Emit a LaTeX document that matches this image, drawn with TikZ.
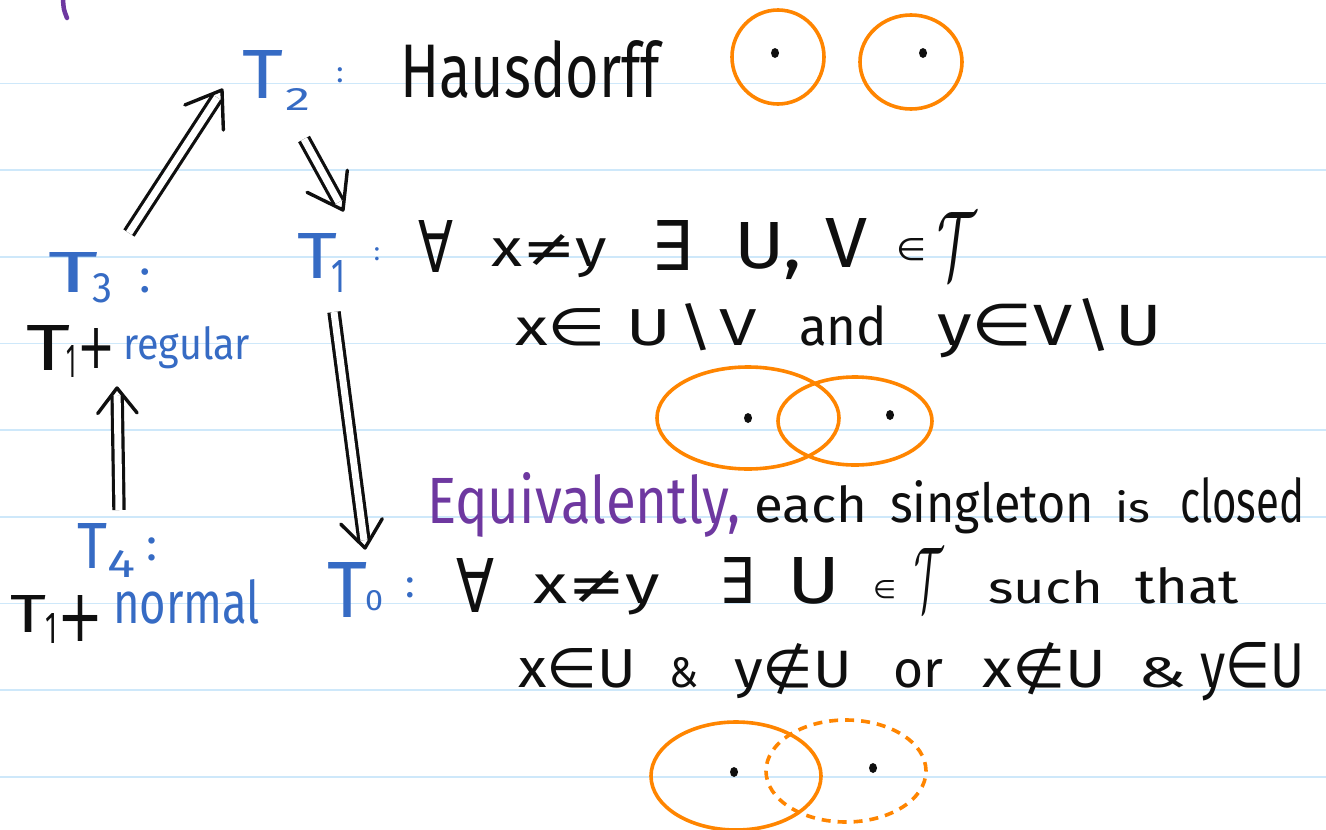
\documentclass[tikz,border=0pt]{standalone}
\usepackage{fix-cm}
\usepackage{fontspec}
\usepackage{graphicx}
\setmainfont{Fira Sans}
\newfontfamily\symf{DejaVu Sans}
\usetikzlibrary{calc}
\definecolor{tblue}{RGB}{54,107,196}
\definecolor{tpurple}{RGB}{110,56,160}
\definecolor{torange}{RGB}{255,133,0}
\definecolor{tline}{RGB}{206,232,250}
\definecolor{tink}{RGB}{15,15,15}
\newcommand\fs[1]{\fontsize{#1}{#1}\selectfont}
\newcommand\fitbox[3]{\resizebox{#1pt}{#2pt}{#3}}
\newcommand\sForall{{\symf ∀}}
\newcommand\sExists{{\symf ∃}}
\newcommand\sIn{{\symf ∈}}
\newcommand\sNotin{{\symf ∉}}
\newcommand\sNeq{{\symf ≠}}
\newcommand\sPlus{{\symf +}}
\newcommand\sMinus{\textbackslash}
% T-width, T-height, digit-width, digit-height, drop, digit, kern
\newcommand\Tlab[7]{\fitbox{#1}{#2}{T}\kern#7pt\raisebox{-#5pt}{\fitbox{#3}{#4}{#6}}}
\begin{document}
\begin{tikzpicture}[x=1pt,y=-1pt,
  txt/.style={inner sep=0pt, anchor=base west, font=\fs{50}, text=tink},
  btxt/.style={txt, text=tblue},
  ptxt/.style={txt, text=tpurple},
  colon/.style={inner sep=0pt, anchor=base, text=tblue},
  ring/.style={draw=torange, line width=3.6pt},
  dashring/.style={ring, dash pattern=on 9pt off 7pt},
  dotfill/.style={fill=tink},
  dbl/.style={draw=tink, double=white, double distance=7pt, line width=3.2pt},
  headst/.style={draw=tink, line width=3.4pt, line cap=round, line join=round},
  ruled/.style={draw=tline, line width=1.6pt}]

\useasboundingbox (0,0) rectangle (1326,830);
\fill[white] (0,0) rectangle (1326,830);

% notebook lines
\foreach \k in {0,...,8}{
  \draw[ruled] (0,{83.3+86.7*\k}) -- (1326,{83.3+86.7*\k});
}

% purple stroke at top
\draw[draw=tpurple, line width=4.5pt, line cap=round] (63,-2) .. controls (63.5,9) .. (67,18);

% ---------- T2 ----------
\node[btxt] (T2) at (242,98) {\Tlab{41}{48}{25}{22}{12}{2}{2}};
\node[colon, font=\fs{30}] (T2c) at (340,82) {:};
\node[txt] (haus) at (400,97) {\fitbox{260}{57}{Hausdorff}};
\draw[ring] (778,57) ellipse [x radius=46pt, y radius=47pt];
\draw[ring] (911,62) ellipse [x radius=51pt, y radius=47pt];
\fill[dotfill] (775,53) ellipse [x radius=4pt, y radius=5pt];
\fill[dotfill] (923,53) ellipse [x radius=4pt, y radius=5pt];

% ---------- T1 ----------
\node[btxt] (T1) at (297,278) {\Tlab{40}{45}{14}{32}{14}{1}{-6}};
\node[colon, font=\fs{26}] (T1c) at (377,260) {:};
\node[txt] (l1a) at (418,272) {\fitbox{35}{52}{\sForall}};
\node[txt] (l1b) at (491,266) {\fitbox{116}{32}{x\sNeq y}};
\node[txt] (l1c) at (651,270) {\fitbox{41}{50}{\sExists}};
\node[txt] (l1d) at (734,268) {\fitbox{68}{46}{U,}};
\node[txt] (l1e) at (825,267) {\fitbox{42}{49}{V}};
\node[txt] (l1f) at (896,260) {\fitbox{30}{22}{\sIn}};
\node[txt] (l1g) at (937,278) {\fitbox{39}{66}{$\mathcal{T}$}};

\node[txt] (l2a) at (515,345) {\fitbox{242}{42}{x\sIn\hspace{0.3em}U\hspace{0.1em}\sMinus\hspace{0.1em}V}};
\node[txt] (l2b) at (799,345) {\fitbox{88}{40}{and}};
\node[txt] (l2c) at (937,345) {\fitbox{225}{47}{y\sIn V\hspace{0.05em}\sMinus\hspace{0.05em}U}};

\draw[ring] (748,418) ellipse [x radius=91pt, y radius=51pt];
\draw[ring] (855,421) ellipse [x radius=77pt, y radius=44pt];
\fill[dotfill] (748,418) ellipse [x radius=4pt, y radius=5pt];
\fill[dotfill] (890,415) ellipse [x radius=4pt, y radius=5pt];

% ---------- Equivalently ----------
\node[ptxt] (eq) at (427,523) {\fitbox{313}{51}{Equivalently,}};
\node[txt] (w1) at (754,522) {\fitbox{113}{37}{each}};
\node[txt] (w2) at (890,522) {\fitbox{204}{42}{singleton}};
\node[txt] (w3) at (1115,522) {\fitbox{35}{32}{is}};
\node[txt] (w4) at (1180,522) {\fitbox{124}{45}{closed}};

% ---------- T0 ----------
\node[btxt] (T0) at (327,617) {\Tlab{40}{55}{18}{20}{-7}{0}{-2}};
\node[colon, font=\fs{40}] (T0c) at (410,597) {:};
\node[txt] (l4a) at (456,612) {\fitbox{38}{54}{\sForall}};
\node[txt] (l4b) at (533,603) {\fitbox{127}{33}{x\sNeq y}};
\node[txt] (l4c) at (719,603) {\fitbox{35}{46}{\sExists}};
\node[txt] (l4d) at (787,603) {\fitbox{53}{46}{U}};
\node[txt] (l4e) at (873,598) {\fitbox{23}{18}{\sIn}};
\node[txt] (l4f) at (914,610) {\fitbox{29}{62}{$\mathcal{T}$}};
\node[txt] (l4g) at (988,603) {\fitbox{115}{33}{such}};
\node[txt] (l4h) at (1135,603) {\fitbox{104}{36}{that}};

\node[txt] (l5a) at (518,687) {\fitbox{118}{39}{x\sIn U}};
\node[txt] (l5b) at (669,687) {\fitbox{29}{30}{\&}};
\node[txt] (l5c) at (734,687) {\fitbox{118}{44}{y\sNotin U}};
\node[txt] (l5d) at (893,687) {\fitbox{50}{28}{or}};
\node[txt] (l5e) at (982,687) {\fitbox{124}{45}{x\sNotin U}};
\node[txt] (l5f) at (1138,687) {\fitbox{48}{30}{\&}};
\node[txt] (l5g) at (1200,687) {\fitbox{104}{45}{y\sIn U}};

\draw[ring] (736,776) ellipse [x radius=85pt, y radius=54pt];
\draw[dashring] (846,771) ellipse [x radius=80pt, y radius=51pt];
\fill[dotfill] (734,772) ellipse [x radius=4pt, y radius=5pt];
\fill[dotfill] (873,768) ellipse [x radius=4pt, y radius=5pt];

% ---------- T3 ----------
\node[btxt] (T3) at (48,292) {\Tlab{50}{40}{20}{29}{10}{3}{-6}};
\node[colon, font=\fs{48}] (T3c) at (145,292) {:};
\node[txt] (r1) at (26,370) {\Tlab{44}{45}{10}{32}{7}{1}{-4}};
\node[txt] (r2) at (77,368) {\fitbox{38}{40}{\sPlus}};
\node[btxt] (r3) at (123,359) {\fitbox{127}{33}{regular}};

% ---------- T4 ----------
\node[btxt] (T4) at (77,568) {\Tlab{30}{45}{28}{27}{9}{4}{0}};
\node[colon, font=\fs{46}] (T4c) at (152,560) {:};
\node[txt] (n1) at (10,632) {\Tlab{36}{37}{12}{30}{11}{1}{-1}};
\node[txt] (n2) at (57,641) {\fitbox{46}{46}{\sPlus}};
\node[btxt] (n3) at (113,623) {\fitbox{147}{44}{normal}};

% ---------- implication arrows ----------
\coordinate (T3out) at (129,233);  \coordinate (T2in) at (222,90);
\coordinate (T2out) at (304,139);  \coordinate (T1in) at (343,210);
\coordinate (T4out) at (119,510);  \coordinate (T3in) at (117,388);
\coordinate (T1out) at (334,312);  \coordinate (T0in) at (365,548);

\draw[dbl, shorten >=9pt] (T3out) -- (T2in);
\draw[headst] ($(T2in)!40pt!35:(T3out)$) -- (T2in) -- ($(T2in)!40pt!-35:(T3out)$);
\draw[dbl, shorten >=9pt] (T2out) -- (T1in);
\draw[headst] ($(T1in)!40pt!35:(T2out)$) -- (T1in) -- ($(T1in)!40pt!-35:(T2out)$);
\draw[dbl, shorten >=8pt] (T4out) -- (T3in);
\draw[headst] ($(T3in)!32pt!38:(T4out)$) -- (T3in) -- ($(T3in)!32pt!-38:(T4out)$);
\draw[dbl, shorten >=8pt] (T1out) -- (T0in);
\draw[headst] ($(T0in)!34pt!38:(T1out)$) -- (T0in) -- ($(T0in)!34pt!-38:(T1out)$);
\end{tikzpicture}
\end{document}
